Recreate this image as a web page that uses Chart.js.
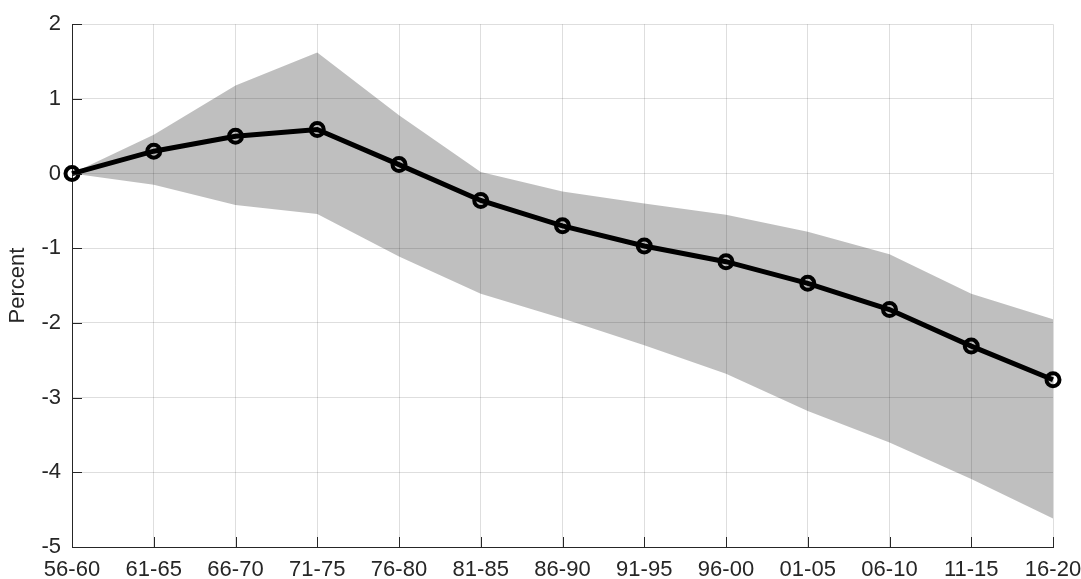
<!DOCTYPE html>
<html>
<head>
<meta charset="utf-8">
<script src="https://cdn.jsdelivr.net/npm/chart.js@4.4.1/dist/chart.umd.min.js"></script>
<style>
    html, body { margin: 0; padding: 0; background: #ffffff; }
    #wrap { width: 1081px; height: 579px; position: relative; }
</style>
</head>
<body>
<div id="wrap"><canvas id="pathChart"></canvas></div>
<script>
// Five-year periods and estimated path with its band (percent)
const periods = ['56-60', '61-65', '66-70', '71-75', '76-80', '81-85', '86-90',
                 '91-95', '96-00', '01-05', '06-10', '11-15', '16-20'];
const estimate = [0, 0.30, 0.50, 0.59, 0.12, -0.36, -0.70, -0.97, -1.18, -1.47, -1.82, -2.31, -2.76];
const upperBand = [0, 0.52, 1.18, 1.62, 0.78, 0.02, -0.24, -0.40, -0.55, -0.78, -1.08, -1.61, -1.95];
const lowerBand = [0, -0.15, -0.42, -0.54, -1.11, -1.61, -1.94, -2.30, -2.68, -3.18, -3.60, -4.09, -4.62];
const yTicks = [-5, -4, -3, -2, -1, 0, 1, 2];

const AXIS_COLOUR = '#262626';
const FONT = { family: '"Liberation Sans", Arial, Helvetica, sans-serif', size: 22 };

// --- MATLAB-style ticks pointing into the plot ---

const inwardTicks = {
    id: 'inwardTicks',
    afterDatasetsDraw(chart) {
        const { ctx, chartArea, scales } = chart;
        ctx.save();
        ctx.strokeStyle = AXIS_COLOUR;
        ctx.lineWidth = 1;
        scales.x.ticks.forEach((t, i) => {
            const x = Math.round(scales.x.getPixelForTick(i)) + 0.5;
            ctx.beginPath();
            ctx.moveTo(x, chartArea.bottom);
            ctx.lineTo(x, chartArea.bottom - 10);
            ctx.stroke();
        });
        scales.y.ticks.forEach((t, i) => {
            const y = Math.round(scales.y.getPixelForTick(i)) + 0.5;
            ctx.beginPath();
            ctx.moveTo(chartArea.left, y);
            ctx.lineTo(chartArea.left + 10, y);
            ctx.stroke();
        });
        ctx.restore();
    }
};

const ctx = document.getElementById('pathChart').getContext('2d');

new Chart(ctx, {
    type: 'line',
    data: {
        labels: periods,
        datasets: [
            {
                label: 'lower',
                data: lowerBand,
                borderWidth: 0,
                pointRadius: 0,
                fill: false
            },
            {
                label: 'upper',
                data: upperBand,
                borderWidth: 0,
                pointRadius: 0,
                backgroundColor: 'rgba(0,0,0,0.25)',
                fill: '-1'
            },
            {
                label: 'estimate',
                data: estimate,
                borderColor: '#000000',
                borderWidth: 5,
                pointRadius: 6.5,
                pointBorderWidth: 4,
                pointBorderColor: '#000000',
                pointBackgroundColor: 'rgba(0,0,0,0)',
                fill: false,
                clip: false
            }
        ]
    },
    options: {
        responsive: true,
        maintainAspectRatio: false,
        animation: false,
        layout: { padding: { top: 21, right: 28, left: 0, bottom: 0 } },
        elements: { line: { tension: 0 } },
        scales: {
            x: {
                offset: false,
                grid: { color: 'rgba(0,0,0,0.13)', drawTicks: false },
                border: { display: true, color: AXIS_COLOUR, width: 1 },
                ticks: { color: AXIS_COLOUR, font: FONT, padding: 10, maxRotation: 0, autoSkip: false },
                afterFit: (scale) => {
                    scale.height = 32;
                    scale.paddingLeft = 0;
                    scale.paddingRight = 0;
                }
            },
            y: {
                min: -5,
                max: 2,
                afterBuildTicks: (scale) => { scale.ticks = yTicks.map(v => ({ value: v })); },
                grid: { color: 'rgba(0,0,0,0.13)', drawTicks: false },
                border: { display: true, color: AXIS_COLOUR, width: 1 },
                ticks: { color: AXIS_COLOUR, font: FONT, padding: 11 },
                title: { display: true, text: 'Percent', color: AXIS_COLOUR, font: FONT, padding: { top: 5, bottom: 2 } },
                afterFit: (scale) => { scale.width = 72; }
            }
        },
        plugins: {
            legend: { display: false },
            tooltip: { enabled: false }
        }
    },
    plugins: [inwardTicks]
});
</script>
</body>
</html>
